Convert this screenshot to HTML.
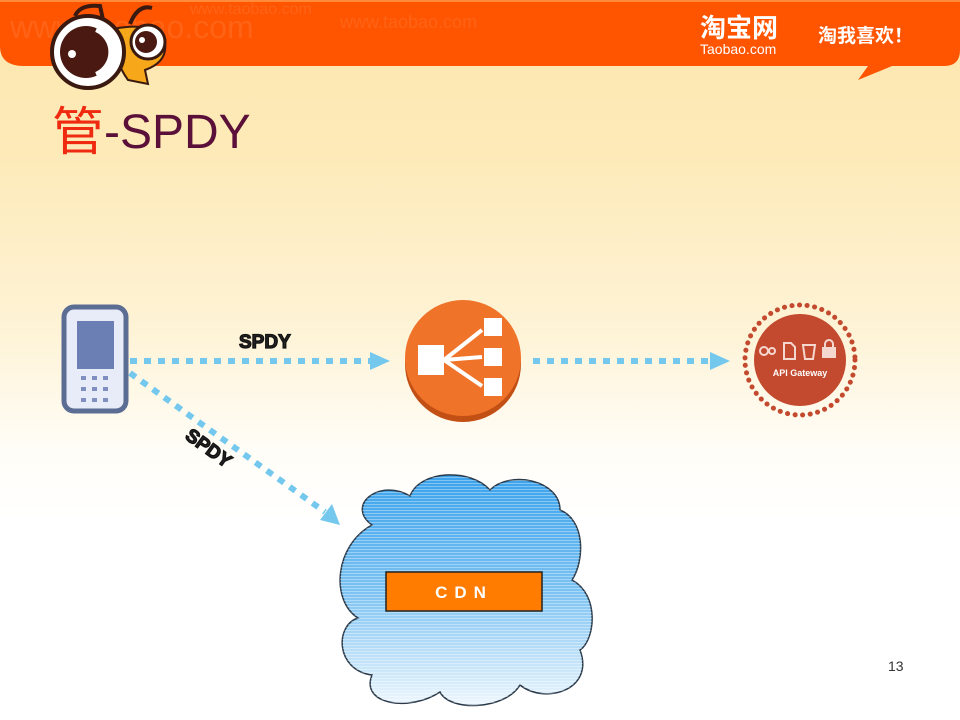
<!DOCTYPE html>
<html><head><meta charset="utf-8"><style>
html,body{margin:0;padding:0;width:960px;height:720px;overflow:hidden}
body{background:linear-gradient(180deg,#fde7ae 0px,#fdeab8 150px,#fef3d6 330px,#fffdf7 450px,#ffffff 520px)}
svg{position:absolute;left:0;top:0}
</style></head><body>
<svg width="960" height="720" viewBox="0 0 960 720" xmlns="http://www.w3.org/2000/svg">
<defs>
<linearGradient id="cl" x1="0" y1="0" x2="0" y2="1">
<stop offset="0" stop-color="#3aa2ec"/><stop offset="0.5" stop-color="#7cc2f2"/><stop offset="1" stop-color="#eef7fe"/>
</linearGradient>
<pattern id="ln" width="4" height="3" patternUnits="userSpaceOnUse"><rect width="4" height="1" fill="#ffffff" opacity="0.35"/></pattern>
</defs>
<!-- header -->
<path d="M0 0 H960 V50 Q960 66 944 66 H892 L858 80 L868 66 H24 Q0 66 0 46 Z" fill="#ff5400"/>
<rect x="0" y="0" width="960" height="2" fill="#ff8a3a"/>
<text x="10" y="38" font-family="Liberation Sans,sans-serif" font-size="32" fill="#ff6a20" opacity="0.7">www.taobao.com</text>
<text x="340" y="28" font-family="Liberation Sans,sans-serif" font-size="18" fill="#ff6a20" opacity="0.7">www.taobao.com</text>
<text x="190" y="14" font-family="Liberation Sans,sans-serif" font-size="16" fill="#ff6a20" opacity="0.7">www.taobao.com</text>
<text x="700" y="37" font-family="Liberation Sans,'Noto Sans CJK SC',sans-serif" font-size="26" font-weight="bold" fill="#fff">淘宝网</text>
<text x="700" y="54" font-family="Liberation Sans,sans-serif" font-size="14" fill="#fff">Taobao.com</text>
<text x="818" y="42" font-family="Liberation Sans,'Noto Sans CJK SC',sans-serif" font-size="19" font-weight="bold" fill="#fff">淘我喜欢！</text>
<!-- bee -->
<path d="M75 16 Q80 4 100 6 L104 24" stroke="#3a1a10" stroke-width="4" fill="none"/>
<path d="M130 24 Q138 4 152 8" stroke="#3a1a10" stroke-width="4" fill="none"/>
<path d="M118 28 Q155 22 165 42 Q168 62 145 70 L148 84 L128 80 Q110 55 118 28Z" fill="#f6a81a" stroke="#3a1a10" stroke-width="2"/>
<circle cx="148" cy="42" r="17" fill="#fff" stroke="#3a1a10" stroke-width="3"/>
<circle cx="146" cy="42" r="11" fill="#4a1a12"/>
<circle cx="142" cy="40" r="3" fill="#fff"/>
<circle cx="88" cy="52" r="36" fill="#fff" stroke="#3a1a10" stroke-width="4"/>
<circle cx="86" cy="52" r="26" fill="#4a1a12"/>
<path d="M96 30 A24 24 0 0 1 96 74" stroke="#fff" stroke-width="4" fill="none"/>
<circle cx="72" cy="54" r="4" fill="#fff"/>
<!-- title -->
<text x="52" y="150" font-family="Liberation Sans,'Noto Sans CJK SC',sans-serif" font-size="52" fill="#f02a10">管</text>
<text x="104" y="148" font-family="Liberation Sans,sans-serif" font-size="48" fill="#5a1038">-SPDY</text>
<!-- phone -->
<rect x="64" y="307" width="62" height="104" rx="10" fill="#e8ecf8" stroke="#5c6d94" stroke-width="5"/>
<rect x="77" y="321" width="37" height="48" fill="#6c7fb4"/>
<g fill="#7f8fbf">
<rect x="81" y="376" width="5" height="4"/><rect x="92" y="376" width="5" height="4"/><rect x="103" y="376" width="5" height="4"/>
<rect x="81" y="387" width="5" height="4"/><rect x="92" y="387" width="5" height="4"/><rect x="103" y="387" width="5" height="4"/>
<rect x="81" y="398" width="5" height="4"/><rect x="92" y="398" width="5" height="4"/><rect x="103" y="398" width="5" height="4"/>
</g>
<!-- arrows -->
<g stroke="#74c8ee" stroke-width="6" stroke-dasharray="7 7" fill="none">
<line x1="130" y1="361" x2="372" y2="361"/>
<line x1="533" y1="361" x2="712" y2="361"/>
<line x1="130" y1="373" x2="325" y2="512"/>
</g>
<g fill="#74c8ee">
<polygon points="370,352 390,361 370,370"/>
<polygon points="710,352 730,361 710,370"/>
<polygon points="320,520 340,525 332,504"/>
</g>
<g font-family="Liberation Sans,sans-serif" font-weight="bold" font-size="19" fill="#222" stroke="#111" stroke-width="1.2">
<text x="239" y="348">SPDY</text>
<text x="184" y="438" transform="rotate(36 184 438)">SPDY</text>
</g>
<!-- load balancer -->
<circle cx="463" cy="364" r="58" fill="#c24f14"/>
<circle cx="463" cy="358" r="58" fill="#f0732a"/>
<g fill="#fff">
<rect x="418" y="345" width="26" height="30"/>
<rect x="484" y="318" width="18" height="18"/>
<rect x="484" y="348" width="18" height="18"/>
<rect x="484" y="378" width="18" height="18"/>
</g>
<g stroke="#fff" stroke-width="4"><line x1="444" y1="360" x2="482" y2="330"/><line x1="444" y1="360" x2="482" y2="357"/><line x1="444" y1="360" x2="482" y2="386"/></g>
<!-- api gateway -->
<circle cx="800" cy="360" r="55" fill="none" stroke="#c34a2e" stroke-width="5" stroke-dasharray="0.1 7.5" stroke-linecap="round"/>
<circle cx="800" cy="360" r="46" fill="#c34a2e"/>
<g stroke="#f4d8d0" stroke-width="2" fill="none">
<circle cx="764" cy="351" r="4"/><circle cx="772" cy="351" r="3"/>
<path d="M784 343 h7 l4 4 v12 h-11z"/>
<path d="M803 345 h12 l-2 14 h-8z"/>
<path d="M825 347 v-3 a4 4 0 0 1 8 0 v3"/>
</g>
<rect x="822" y="347" width="14" height="11" fill="#f4d8d0"/>
<text x="800" y="376" text-anchor="middle" font-family="Liberation Sans,sans-serif" font-weight="bold" font-size="9" fill="#fff">API Gateway</text>
<!-- cloud -->
<path id="c" d="M372 525 C345 505 380 478 410 496 C420 470 470 468 490 490 C510 470 560 480 560 510 C585 520 585 560 572 580 C600 595 595 640 580 650 C595 690 545 705 520 685 C505 710 450 712 440 692 C410 712 360 705 372 675 C335 670 335 625 358 618 C330 600 335 545 372 525Z" fill="url(#cl)" stroke="#2a3a4a" stroke-width="1.5"/>
<path d="M372 525 C345 505 380 478 410 496 C420 470 470 468 490 490 C510 470 560 480 560 510 C585 520 585 560 572 580 C600 595 595 640 580 650 C595 690 545 705 520 685 C505 710 450 712 440 692 C410 712 360 705 372 675 C335 670 335 625 358 618 C330 600 335 545 372 525Z" fill="url(#ln)"/>
<rect x="386" y="572" width="156" height="39" fill="#ff7c00" stroke="#222" stroke-width="1.5"/>
<text x="464" y="598" text-anchor="middle" font-family="Liberation Sans,sans-serif" font-weight="bold" font-size="17" letter-spacing="7" fill="#fff">CDN</text>
<text x="888" y="671" font-family="Liberation Sans,sans-serif" font-size="14" fill="#333">13</text>
</svg>
</body></html>
